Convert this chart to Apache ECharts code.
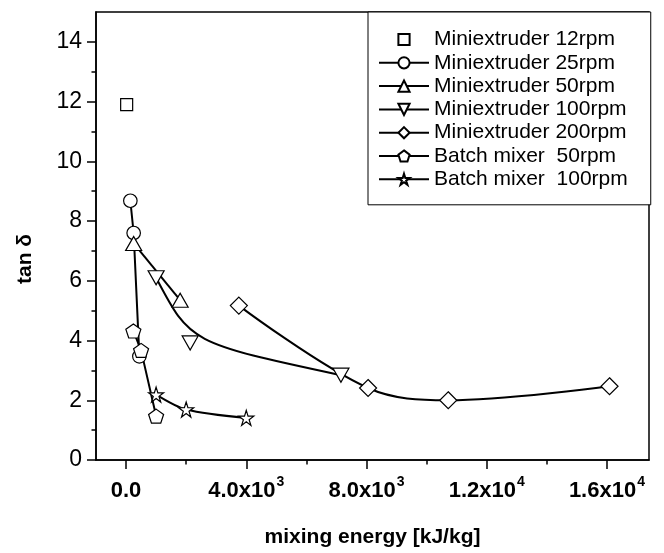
<!DOCTYPE html>
<html><head><meta charset="utf-8">
<script src="https://cdn.jsdelivr.net/npm/echarts@6/dist/echarts.min.js"></script>
<style>html,body{margin:0;padding:0;background:#fff}#c{width:664px;height:553px}</style>
</head><body><div id="c"></div>
<script>
// ---- data ----
const x12 = [20];
const y12 = [11.9];
const x25 = [143, 253, 443];
const y25 = [8.68, 7.6, 3.47];
const x50 = [253, 1800];
const y50 = [7.25, 5.35];
const x100 = [1000, 2133, 7150];
const y100 = [6.1, 3.92, 2.84];
const x200 = [3753, 8053, 10720, 16087];
const y200 = [5.17, 2.41, 2.0, 2.47];
const xB50 = [243, 500, 1000];
const yB50 = [4.32, 3.67, 1.47];
const xB100 = [1000, 2000, 4000];
const yB100 = [2.19, 1.69, 1.41];
const seriesNames = ['Miniextruder 12rpm', 'Miniextruder 25rpm', 'Miniextruder 50rpm',
  'Miniextruder 100rpm', 'Miniextruder 200rpm', 'Batch mixer  50rpm', 'Batch mixer  100rpm'];
const xMajorTicks = [0, 4000, 8000, 12000, 16000];
const xMinorTicks = [2000, 6000, 10000, 14000];
const xTickMantissa = ['0.0', '4.0x10', '8.0x10', '1.2x10', '1.6x10'];
const xTickExponent = ['', '3', '3', '4', '4'];
const yMajorTicks = [0, 2, 4, 6, 8, 10, 12, 14];
const yMinorTicks = [1, 3, 5, 7, 9, 11, 13];
const yTickLabels = ['0', '2', '4', '6', '8', '10', '12', '14'];

const pts = (xs, ys) => xs.map((x, i) => [x, ys[i]]);
const FONT = '"Liberation Sans", Arial, Helvetica, sans-serif';
const PENTAGON = 'path://M50,0 L97.55,34.55 L79.39,90.45 L20.61,90.45 L2.45,34.55 Z';
const STAR = 'path://M50,0 L61.17,34.63 L97.55,34.55 L68.07,55.87 L79.39,90.45 L50,69 L20.61,90.45 L31.93,55.87 L2.45,34.55 L38.83,34.63 Z';
const mk = {color: '#fff', borderColor: '#000', borderWidth: 1.2};
const ln = {color: '#000', width: 2};

function lineSeries(name, data, symbol, size, extra) {
  return Object.assign({
    name: name, type: 'line', data: data, symbol: symbol, symbolSize: size,
    itemStyle: mk, lineStyle: ln, showAllSymbol: true, animation: false
  }, extra || {});
}

const chart = echarts.init(document.getElementById('c'), null, {renderer: 'canvas'});
chart.setOption({
  backgroundColor: '#fff',
  animation: false,
  textStyle: {fontFamily: FONT, color: '#000'},
  grid: {left: 96, right: 15, top: 12, bottom: 92, show: true, borderColor: '#000', borderWidth: 1.5, containLabel: false},
  legend: {
    data: seriesNames.map((n, i) => i === 3 ? {name: n, lineStyle: {opacity: 1, width: 2, color: '#000'}} : n),
    orient: 'vertical', left: 368, top: 12,
    padding: [17, 23, 15, 10], itemGap: 2.3, itemWidth: 50, itemHeight: 14,
    textStyle: {fontSize: 21, lineHeight: 20, fontFamily: FONT, color: '#000'},
    borderColor: '#000', borderWidth: 1, backgroundColor: '#fff', selectedMode: false
  },
  xAxis: [{
    type: 'value', min: -1000, max: 17400, position: 'bottom',
    name: 'mixing energy [kJ/kg]', nameLocation: 'middle', nameGap: 67,
    nameTextStyle: {fontSize: 21, fontWeight: 'bold', color: '#000', fontFamily: FONT},
    axisLine: {show: true, onZero: false, lineStyle: {color: '#000', width: 1.5}},
    axisTick: {show: true, customValues: xMajorTicks, length: 9, lineStyle: {color: '#000', width: 1.5}},
    axisLabel: {
      customValues: xMajorTicks, margin: 15,
      formatter: function (v) {
        const i = xMajorTicks.indexOf(v);
        if (i < 0) return '';
        return '{b|' + xTickMantissa[i] + '}' + (xTickExponent[i] ? '{s|' + xTickExponent[i] + '}' : '');
      },
      rich: {
        b: {fontSize: 22, fontWeight: 'bold', lineHeight: 32, verticalAlign: 'middle', color: '#000', fontFamily: FONT},
        s: {fontSize: 14, fontWeight: 'bold', lineHeight: 14, verticalAlign: 'top', padding: [0, 0, 0, 1], color: '#000', fontFamily: FONT}
      }
    },
    splitLine: {show: false}
  }, {
    type: 'value', min: -1000, max: 17400, position: 'bottom', gridIndex: 0,
    axisLine: {show: false, onZero: false}, axisLabel: {show: false}, splitLine: {show: false},
    axisTick: {show: true, customValues: xMinorTicks, length: 4.5, lineStyle: {color: '#000', width: 1.5}}
  }],
  yAxis: [{
    type: 'value', min: 0, max: 15, position: 'left',
    axisLine: {show: true, onZero: false, lineStyle: {color: '#000', width: 1.5}},
    axisTick: {show: true, customValues: yMajorTicks, length: 9, lineStyle: {color: '#000', width: 1.5}},
    axisLabel: {
      customValues: yMajorTicks, margin: 14, fontSize: 23, color: '#000', fontFamily: FONT,
      formatter: function (v) { const i = yMajorTicks.indexOf(v); return i < 0 ? '' : yTickLabels[i]; }
    },
    splitLine: {show: false}
  }, {
    type: 'value', min: 0, max: 15, position: 'left', offset: 0, gridIndex: 0,
    axisLine: {show: false, onZero: false}, axisLabel: {show: false}, splitLine: {show: false},
    axisTick: {show: true, customValues: yMinorTicks, length: 4.5, lineStyle: {color: '#000', width: 1.5}}
  }],
  graphic: [{
    type: 'text', x: 25, y: 259, rotation: Math.PI / 2,
    style: {text: 'tan δ', font: 'bold 21px ' + FONT, fill: '#000', textAlign: 'center', textVerticalAlign: 'middle'}
  }],
  series: [
    lineSeries(seriesNames[0], pts(x12, y12), 'rect', 12, {lineStyle: {width: 0, opacity: 0, color: '#000'}}),
    lineSeries(seriesNames[1], pts(x25, y25), 'circle', 13.5),
    lineSeries(seriesNames[2], pts(x50, y50), 'triangle', [16, 14]),
    {
      type: 'custom', name: 'curve100', data: pts(x100, y100), silent: true, z: 2,
      renderItem: function (params, api) {
        if (params.dataIndex !== 0) return null;
        const p = x100.map((x, i) => api.coord([x, y100[i]]));
        return {
          type: 'bezierCurve',
          shape: {x1: p[0][0], y1: p[0][1], x2: p[2][0], y2: p[2][1],
                  cpx1: p[1][0], cpy1: p[1][1], cpx2: p[1][0], cpy2: p[1][1]},
          style: {stroke: '#000', lineWidth: 2, fill: null}
        };
      }
    },
    lineSeries(seriesNames[3], pts(x100, y100), 'triangle', [16, 14], {symbolRotate: 180, lineStyle: {width: 2, opacity: 0, color: '#000'}}),
    lineSeries(seriesNames[4], pts(x200, y200), 'diamond', [17, 17], {smooth: 0.35}),
    lineSeries(seriesNames[5], pts(xB50, yB50), PENTAGON, [15, 14]),
    lineSeries(seriesNames[6], pts(xB100, yB100), STAR, [15, 15], {smooth: 0.3})
  ]
});
</script>
</body></html>
